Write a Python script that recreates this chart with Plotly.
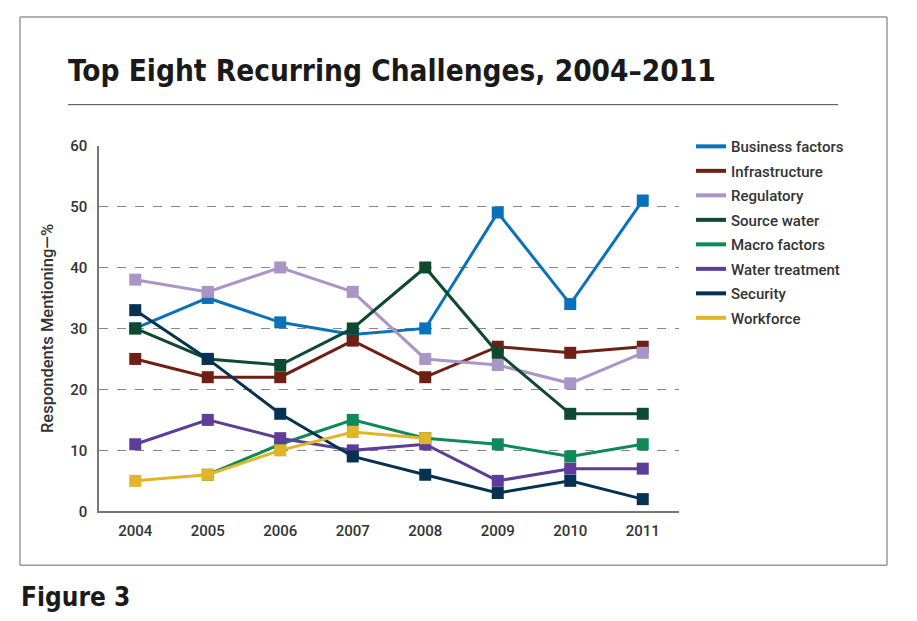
import plotly.graph_objects as go

years = [2004, 2005, 2006, 2007, 2008, 2009, 2010, 2011]
business_factors = [30, 35, 31, 29, 30, 49, 34, 51]
infrastructure = [25, 22, 22, 28, 22, 27, 26, 27]
regulatory = [38, 36, 40, 36, 25, 24, 21, 26]
source_water = [30, 25, 24, 30, 40, 26, 16, 16]
macro_factors = [None, 6, 11, 15, 12, 11, 9, 11]
water_treatment = [11, 15, 12, 10, 11, 5, 7, 7]
security = [33, 25, 16, 9, 6, 3, 5, 2]
workforce = [5, 6, 10, 13, 12, None, None, None]

series = [
    ("Business factors", business_factors, "#0a72ba"),
    ("Infrastructure", infrastructure, "#6e2014"),
    ("Regulatory", regulatory, "#a995c6"),
    ("Source water", source_water, "#0e4a30"),
    ("Macro factors", macro_factors, "#0d8a57"),
    ("Water treatment", water_treatment, "#5e3d99"),
    ("Security", security, "#063251"),
    ("Workforce", workforce, "#e2b42a"),
]

W, H = 917, 621
HR = H - 16   # effective drawing height observed in the viewer
TOP = 8


def fx(px):
    return px / W


def fy(py):
    return 1 - (py - TOP) / HR


fig = go.Figure()
for name, vals, col in series:
    fig.add_trace(go.Scatter(
        x=years, y=vals, name=name, mode="lines+markers",
        line=dict(color=col, width=3),
        marker=dict(symbol="square", size=12, color=col),
        showlegend=False,
    ))
for name, vals, col in series:
    fig.add_trace(go.Scatter(
        x=[None], y=[None], name=name, mode="lines",
        line=dict(color=col, width=4), legendgroup=name, showlegend=True,
    ))

tick_font = dict(size=15, color="#333333", family="Roboto", weight=500)

fig.update_layout(
    width=W, height=H, autosize=False,
    margin=dict(l=0, r=0, t=0, b=0),
    paper_bgcolor="white", plot_bgcolor="white",
    font=dict(family="Roboto, Arial, sans-serif", color="#333333", size=14),
    showlegend=True,
    legend=dict(
        x=fx(691), y=fy(129.5), xanchor="left", yanchor="top",
        font=dict(size=15, color="#333333", family="Roboto", weight=500),
        tracegroupgap=2, itemwidth=30, bgcolor="rgba(0,0,0,0)",
    ),
    xaxis=dict(
        domain=[fx(99), fx(679)], range=[2003.5, 2011.5],
        tickvals=years, ticktext=[str(y) for y in years],
        showgrid=False, zeroline=False, showline=True, linecolor="#777777",
        linewidth=1.5, ticks="", tickfont=tick_font,
        ticklabelstandoff=5,
    ),
    yaxis=dict(
        domain=[fy(512), fy(145)], range=[0, 60],
        tickvals=[0, 10, 20, 30, 40, 50, 60],
        showgrid=True, gridcolor="#888888", griddash="dash", gridwidth=1,
        zeroline=False, showline=True, linecolor="#777777", linewidth=1.5,
        ticks="", tickfont=tick_font,
        ticklabelstandoff=7,
        title=dict(text="Respondents Mentioning—%",
                   font=dict(size=16.5, color="#333333", family="Roboto", weight=500), standoff=12),
    ),
    shapes=[
        dict(type="rect", xref="paper", yref="paper",
             x0=fx(20), x1=fx(887), y0=fy(566), y1=fy(16),
             line=dict(color="#666666", width=1), fillcolor="rgba(0,0,0,0)", layer="below"),
        dict(type="line", xref="paper", yref="paper",
             x0=fx(68), x1=fx(838), y0=fy(104), y1=fy(104),
             line=dict(color="#444444", width=1)),
    ],
    annotations=[
        dict(text="<b>Top Eight Recurring Challenges, 2004–2011</b>", xref="paper", yref="paper",
             x=fx(66), y=fy(70), xanchor="left", yanchor="middle", showarrow=False,
             font=dict(family="DejaVu Sans Condensed, DejaVu Sans, Roboto", size=29.5, color="#1a1a1a")),
        dict(text="<b>Figure 3</b>", xref="paper", yref="paper",
             x=fx(19), y=fy(598), xanchor="left", yanchor="middle", showarrow=False,
             font=dict(family="DejaVu Sans Condensed, DejaVu Sans, Roboto", size=26, color="#1a1a1a")),
    ],
)

fig.write_html(
    "out.html",
    config={"responsive": False, "displayModeBar": False},
    post_script="document.body.style.margin='0';document.body.style.overflow='hidden';",
)
